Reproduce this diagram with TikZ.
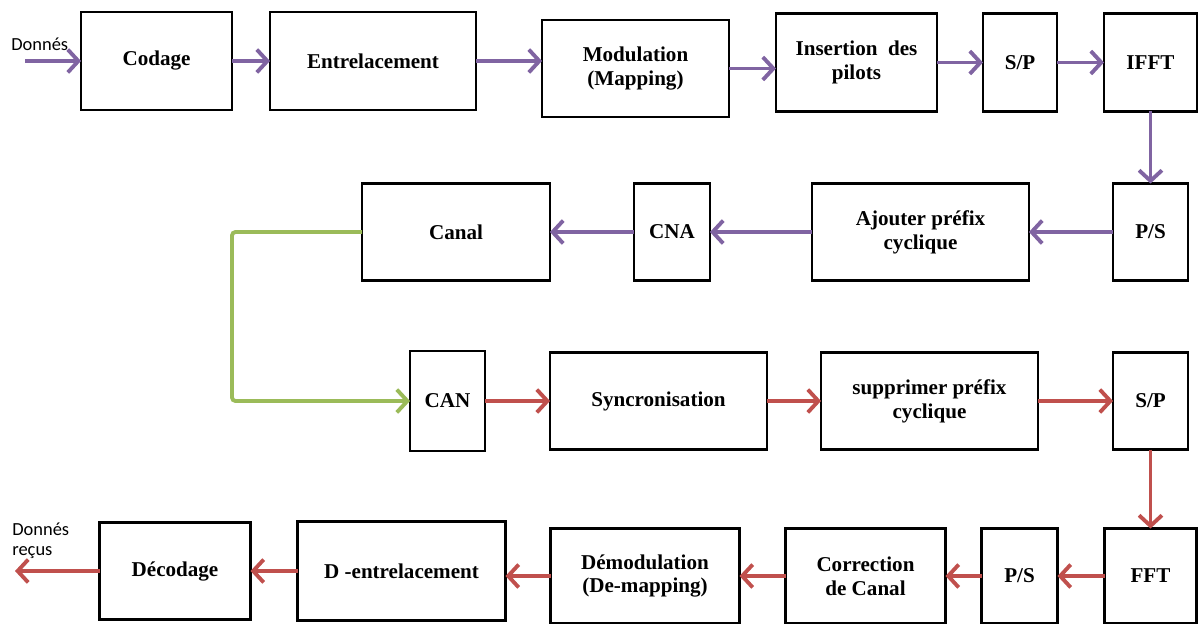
\documentclass[tikz,border=0pt]{standalone}
\usepackage{fontspec}
\setmainfont{Liberation Serif}
\newfontfamily\labelfont{Carlito}
\usetikzlibrary{positioning, arrows.meta}
\definecolor{FlowPurple}{HTML}{8064A2}
\definecolor{FlowRed}{HTML}{C0504D}
\definecolor{FlowGreen}{HTML}{9BBB59}

\begin{document}
\begin{tikzpicture}[
    font=\fontsize{12}{13.6}\selectfont\bfseries,
    block/.style={rectangle, draw=black, fill=white, line width=1.5pt, outer sep=0pt, minimum height=1.96cm, align=center, inner sep=2pt},
    txflow/.style={-{Straight Barb[length=6pt,width=13pt]}, line width=2.2pt, FlowPurple},
    rxflow/.style={-{Straight Barb[length=6pt,width=13pt]}, line width=2.2pt, FlowRed},
    chanflow/.style={-{Straight Barb[length=6pt,width=13pt]}, line width=2.2pt, FlowGreen, rounded corners=2pt},
    sidelabel/.style={inner sep=0pt, anchor=west, align=left, font=\labelfont\fontsize{10.5}{11.5}\selectfont}
  ]
    \useasboundingbox (0,0) rectangle (23.96,-12.48);

    % Nodes
    \node (codage) [block, minimum width=3.02cm] at (3.13,-1.22) {Codage};
    \node (entrel) [block, minimum width=4.12cm, right=0.76cm of codage] {Entrelacement};
    \node (modul) [block, minimum width=3.74cm, minimum height=1.94cm, right=1.32cm of entrel, yshift=-0.15cm] {Modulation\\(Mapping)};
    \node (insert) [block, minimum width=3.22cm, right=0.94cm of modul, yshift=0.12cm] {Insertion\ \ des\\pilots};
    \node (sp1) [block, minimum width=1.48cm, right=0.92cm of insert] {S/P};
    \node (ifft) [block, minimum width=1.86cm, right=0.94cm of sp1] {IFFT};

    \node (ps1) [block, minimum width=1.5cm, minimum height=1.94cm, below=1.44cm of ifft] {P/S};
    \node (ajout) [block, minimum width=4.34cm, minimum height=1.94cm, left=1.68cm of ps1] {Ajouter préfix\\cyclique};
    \node (cna) [block, minimum width=1.52cm, minimum height=1.94cm, left=2.04cm of ajout] {CNA};
    \node (canal) [block, minimum width=3.76cm, minimum height=1.94cm, left=1.68cm of cna] {Canal};

    \node (sp2) [block, minimum width=1.5cm, minimum height=1.94cm, below=1.44cm of ps1] {S/P};
    \node (suppr) [block, minimum width=4.34cm, minimum height=1.94cm, left=1.5cm of sp2] {supprimer préfix\\cyclique};
    \node (sync) [block, minimum width=4.34cm, minimum height=1.94cm, left=1.08cm of suppr] {Syncronisation};
    \node (can) [block, minimum width=1.5cm, minimum height=2.0cm, left=1.3cm of sync] {CAN};

    \node (fft) [block, minimum width=1.84cm, minimum height=1.9cm, below=1.58cm of sp2] {FFT};
    \node (ps2) [block, minimum width=1.52cm, minimum height=1.9cm, left=0.94cm of fft] {P/S};
    \node (corr) [block, minimum width=3.2cm, minimum height=1.9cm, left=0.72cm of ps2] {Correction\\de Canal};
    \node (demod) [block, minimum width=3.78cm, minimum height=1.9cm, left=0.92cm of corr] {Démodulation\\(De-mapping)};
    \node (dentr) [block, minimum width=4.16cm, minimum height=1.98cm, left=0.9cm of demod, yshift=0.1cm] {D -entrelacement};
    \node (decod) [block, minimum width=3.02cm, minimum height=1.94cm, left=0.94cm of dentr] {Décodage};

    % Labels and free ends
    \node (inlabel) [sidelabel] at (0.22,-0.88) {Donnés};
    \node (outlabel) [sidelabel] at (0.24,-10.82) {Donnés\\reçus};
    \coordinate (in) at (0.5,-1.22);
    \coordinate (out) at (0.3,-11.39);
    \coordinate (bend) at (4.64,-7.92);

    % Arrows
    \draw [txflow] (in) -- (codage);
    \draw [txflow] (codage) -- (entrel);
    \draw [txflow] (entrel) -- (entrel -| modul.west);
    \draw [txflow] (modul) -- (modul -| insert.west);
    \draw [txflow] (insert) -- (insert -| sp1.west);
    \draw [txflow] (sp1) -- (ifft);
    \draw [txflow] (ifft) -- (ifft |- ps1.north);
    \draw [txflow] (ps1) -- (ajout);
    \draw [txflow] (ajout) -- (cna);
    \draw [txflow] (cna) -- (canal);

    \draw [chanflow] (canal) -- (canal -| bend) |- (can);

    \draw [rxflow] (can) -- (can -| sync.west);
    \draw [rxflow] (sync) -- (sync -| suppr.west);
    \draw [rxflow] (suppr) -- (suppr -| sp2.west);
    \draw [rxflow] (sp2) -- (sp2 |- fft.north);
    \draw [rxflow] (fft) -- (ps2);
    \draw [rxflow] (ps2) -- (corr);
    \draw [rxflow] (corr) -- (demod);
    \draw [rxflow] (demod) -- (demod -| dentr.east);
    \draw [rxflow] (dentr) -- (decod);
    \draw [rxflow] (decod) -- (decod -| out);
  \end{tikzpicture}
\end{document}
